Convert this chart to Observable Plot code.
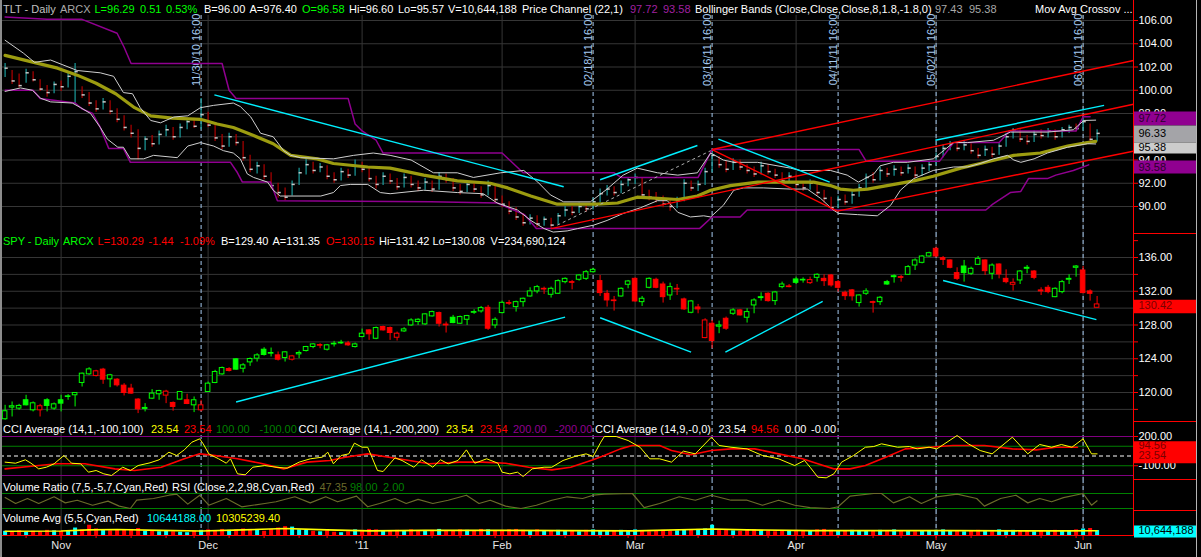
<!DOCTYPE html>
<html><head><meta charset="utf-8">
<script src="https://cdn.jsdelivr.net/npm/d3@7"></script>
<script src="https://cdn.jsdelivr.net/npm/@observablehq/plot@0.6"></script>
<style>
html,body{margin:0;padding:0;background:#000;}
#chart{position:relative;width:1201px;height:557px;background:#000;overflow:hidden;font-family:"Liberation Sans",Arial,Helvetica,sans-serif;font-size:11px;}
.hdr{position:absolute;white-space:nowrap;font-size:11px;line-height:13px;}
.ln{position:absolute;}
</style></head><body><div id="chart"></div>
<script>
// ---------------- DATA (bar index 0 = 2010-10-20 ... 156 = 2011-06-03) ----------------
const monthTicks = [8, 29, 51, 71, 90, 113, 133, 154];
const monthLabels = ["Nov", "Dec", "'11", "Feb", "Mar", "Apr", "May", "Jun"];
const weekTicks = [3,8,13,18,23,27,32,37,42,46,51,56,61,65,70,75,80,85,89,94,99,104,109,114,119,124,128,133,138,143,148,153];
const markerIdx = [28, 84, 101, 119, 133, 154];
const markerLabels = ["11/30/10 16:00","02/18/11 16:00","03/16/11 16:00","04/11/11 16:00","05/02/11 16:00","06/01/11 16:00"];

const tltTicks = [106,104,102,100,98,96,94,92,90];
const tltHiddenLabels = [96];
const spyTicks = [138,136,134,132,130,128,126,124,122,120,118];
const spyGrid = [136,134,132,130,128,126,124,122,120,118];
const cciTicks = [200,100,0,-100];
const cciHiddenLabels = [100, 0];

const tltClose = [101.9,100.8,100.4,101.5,100.9,100.1,99.8,100.5,100.3,101.2,
101.6,99.6,98.9,98.4,99.0,98.2,97.5,96.8,96.3,95.0,
95.8,95.4,96.2,96.6,96.0,96.8,97.3,96.9,97.9,97.0,
95.9,95.2,96.0,95.5,94.2,93.2,93.5,92.6,91.8,91.2,
90.8,91.9,92.9,93.6,93.1,93.4,92.6,92.3,93.0,92.7,
93.5,93.2,92.4,91.9,92.6,92.2,91.7,92.5,91.9,91.6,
92.1,91.5,92.6,92.3,91.6,91.3,91.9,91.5,91.0,91.8,
90.6,90.2,89.6,89.1,88.6,89.0,88.5,88.9,88.4,89.2,
89.7,89.5,90.0,89.8,90.4,91.1,91.5,91.2,91.9,92.3,
92.5,91.0,90.8,90.6,90.2,90.0,90.5,92.0,91.6,91.9,
93.0,94.4,93.6,93.2,93.8,93.4,93.1,92.8,93.5,93.0,
92.7,92.2,92.6,91.9,91.6,92.0,91.2,90.7,89.9,90.6,
90.4,91.0,91.6,92.5,92.3,93.1,92.8,93.2,92.9,93.3,
92.7,93.3,93.6,94.3,95.0,95.4,95.0,95.3,94.8,94.4,
94.9,94.5,95.2,96.0,96.6,95.8,95.6,96.2,96.1,96.5,
96.0,96.6,96.8,96.7,97.3,95.78,96.29];
const tltHigh = [102.3,101.7,101.4,101.8,101.6,100.9,100.4,100.7,100.8,101.5,
102.3,100.3,99.8,99.1,99.3,99.1,98.4,97.8,97.0,96.6,
96.0,96.1,96.5,97.0,96.8,97.1,97.5,97.6,99.3,98.1,
97.1,96.2,96.3,96.2,95.6,94.4,93.8,93.6,92.9,92.0,
91.6,92.2,93.3,94.1,93.8,93.7,93.5,92.9,93.3,93.2,
94.0,93.8,93.3,92.6,92.9,92.8,92.4,92.8,92.6,92.2,
92.4,92.2,92.9,92.8,92.4,91.9,92.2,92.1,91.7,92.2,
91.8,90.9,90.4,89.9,89.4,89.3,89.2,89.1,89.0,89.4,
90.0,90.0,90.3,90.2,90.7,91.5,91.8,91.7,92.2,92.5,
92.8,92.4,91.4,91.2,90.9,90.6,90.8,92.3,92.2,92.2,
93.3,94.8,94.3,93.9,94.1,94.0,93.6,93.4,93.8,93.6,
93.2,92.9,92.9,92.7,92.1,92.3,92.0,91.4,90.8,90.9,
91.0,91.3,91.9,92.8,92.9,93.4,93.3,93.5,93.4,93.6,
93.4,93.6,93.9,94.6,95.3,95.6,95.5,95.6,95.4,95.0,
95.2,95.1,95.4,96.3,96.7,96.6,96.1,96.5,96.6,96.7,
96.6,96.8,97.0,97.1,97.7,97.1,96.6];
const tltLow = [101.1,100.5,100.2,100.6,100.7,99.9,99.4,99.7,99.9,100.2,
98.8,99.3,98.6,98.1,98.3,97.9,97.2,96.5,95.9,94.0,
94.8,95.1,95.3,96.0,95.7,95.9,96.6,96.7,96.6,96.8,
95.6,94.9,95.1,95.2,93.9,92.9,92.8,92.3,91.5,90.7,
90.5,90.9,91.8,92.7,92.8,92.9,92.3,92.0,92.2,92.4,
92.6,92.9,92.1,91.5,91.8,91.9,91.4,91.6,91.6,91.3,
91.4,91.2,91.4,92.0,91.3,91.0,91.2,91.2,90.7,90.9,
90.3,89.9,89.3,88.8,88.3,88.4,88.2,88.3,88.1,88.4,
89.1,89.2,89.4,89.5,89.7,90.3,90.9,90.9,91.1,91.7,
91.9,90.7,90.5,90.3,89.9,89.6,89.8,90.4,91.3,91.3,
91.8,92.9,93.3,92.9,93.1,93.1,92.8,92.5,92.7,92.7,
92.4,91.9,92.0,91.6,91.3,91.4,90.9,90.3,89.7,89.8,
90.1,90.2,90.8,91.5,92.0,92.2,92.5,92.6,92.6,92.8,
92.4,92.6,93.0,93.5,94.2,94.8,94.7,94.8,94.5,94.1,
94.3,94.2,94.4,95.1,95.8,95.5,95.3,95.5,95.8,95.9,
95.7,95.9,96.3,96.4,96.5,95.6,95.57];

// TLT indicators, vertices [bar index, value]
const tltMA = [[0,103.0],[4.1,102.4],[7.5,101.9],[10.3,101.3],[13,100.6],[15.8,99.7],[18.5,98.5],[20.8,97.8],[23.9,97.6],[27.9,97.5],[30.3,97.1],[32.6,96.8],[35.5,96.1],[38.3,95.4],[40.8,94.4],[44.6,94.1],[46.9,93.7],[51.8,93.4],[55,93.3],[59.8,92.7],[64.6,92.2],[69.3,92.0],[71.8,91.6],[75.1,90.9],[78.9,90.2],[84.6,90.2],[87.5,90.3],[90.3,90.8],[96.1,90.6],[98.9,90.9],[100.8,91.4],[103.6,91.8],[107.5,92.1],[115.5,92.1],[117.9,91.8],[119.3,91.5],[121.2,91.4],[123.2,91.5],[126,91.8],[129.8,92.2],[132.6,92.6],[136.5,93.3],[139.3,93.7],[144.1,94.4],[147.9,94.6],[151.8,95.2],[154.6,95.5],[155.8,95.6]];
const bbUpper = [[0,104.3],[2.6,103.2],[4.2,102.4],[6.5,102.6],[10.3,101.7],[13.6,101.5],[15.5,101.2],[16.9,99.8],[18.2,99.7],[19.3,98.5],[20.8,97.4],[22.2,97.2],[24.1,97.7],[26.1,97.8],[27.9,98.5],[29.8,98.7],[32.6,98.9],[33.6,98.6],[35.1,97.7],[36.5,96.3],[38.3,96.0],[39.8,94.8],[40.8,94.4],[42.2,94.2],[46.9,94.1],[49.8,94.4],[52.6,94.6],[55,94.4],[58,94.0],[61.2,92.9],[64.6,92.9],[66.9,92.5],[70.8,92.9],[74.1,93.1],[76.1,92.1],[77.9,91.0],[79.8,90.4],[83.6,90.4],[86,91.5],[88.3,92.7],[90.3,93.3],[93.2,92.9],[96.1,92.7],[98.9,92.9],[100.8,94.6],[102.6,94.0],[104.1,93.8],[107.5,93.8],[112.2,93.3],[113.6,93.1],[117.9,93.1],[120.3,92.7],[121.9,92.1],[124.1,92.8],[125,93.5],[126.9,93.8],[128.9,93.8],[132.6,94.1],[135.5,95.5],[137.5,95.5],[141.2,95.7],[143.6,96.4],[148.9,96.4],[152.6,96.6],[154.1,97.4],[155.8,97.43]];
const bbLower = [[0,99.9],[2.2,100.2],[3.9,100.0],[5.1,99.3],[6.5,99.0],[9.6,98.9],[10.8,98.5],[12.2,98.0],[13.6,96.8],[14.6,95.8],[16.1,95.1],[16.9,95.1],[17.9,94.1],[19.8,94.1],[21.2,94.4],[24.6,94.2],[26.1,95.2],[27.9,95.5],[29.8,95.2],[31.2,94.8],[32.6,94.6],[33.6,94.1],[34.6,92.8],[35.5,92.5],[37.5,92.1],[38.3,91.4],[39.3,90.9],[45.1,90.9],[46.9,91.2],[47.9,91.8],[49.3,91.9],[51.8,91.9],[53.6,91.2],[55,91.1],[59.8,91.4],[64.6,91.2],[68.3,91.1],[70.3,90.3],[73.2,89.7],[75.1,88.8],[77,88.1],[78.3,87.8],[80.3,87.9],[81.8,88.1],[84.1,88.4],[86,88.8],[88.3,89.4],[90.8,89.9],[93.2,90.5],[94.6,90.5],[96.1,89.5],[97.9,89.1],[99.8,89.2],[100.8,89.1],[102.6,90.1],[104.1,91.4],[105.5,91.6],[108.3,91.6],[112.2,91.5],[114.6,91.5],[116.5,90.7],[118.3,89.7],[119.1,89.4],[121.8,89.3],[124.6,89.2],[126.5,90.1],[127.9,91.4],[129.8,92.4],[132.6,93.1],[135.5,93.4],[137.5,93.4],[139.3,93.7],[141.2,94.1],[143.2,94.4],[144.1,94.0],[145.1,93.8],[147,94.1],[148.9,94.6],[151.8,95.1],[154.6,95.4],[155.8,95.38]];
const pcUpper = [[0,106.3],[6,106.1],[11,106.1],[16,104.9],[17,103.7],[18,102.3],[31,102.3],[32,100.0],[33,99.3],[49,99.3],[50,97.1],[51,96.5],[52,96.1],[53,95.7],[54,94.6],[71,94.6],[74,92.9],[87,92.9],[88,92.5],[99,92.5],[101,94.9],[122,94.9],[123,93.9],[133.5,93.9],[135.5,95.5],[142,95.5],[143.5,96.5],[153,96.5],[154,97.72],[155,97.72]];
const pcLower = [[0,100.0],[4,100.0],[5,99.3],[10,98.9],[11,98.4],[12.5,98.0],[13.6,96.8],[14.8,95.0],[16.9,95.0],[17.9,93.8],[32.2,93.8],[33.2,92.9],[33.9,92.1],[37.9,92.1],[38.9,90.5],[60.8,90.4],[70.3,90.3],[74.2,89.3],[75.9,88.1],[99.2,88.1],[101,89.1],[105,89.1],[106,89.7],[140.1,89.7],[141.1,90.2],[143.6,91.2],[145.1,91.3],[146.2,92.4],[148.9,92.4],[150.1,92.7],[152.6,93.1],[154.8,93.58]];
// trend lines [i1, p1, i2, p2]
const tltCyanLines = [[29.9,99.6,79.8,91.7],[85,92.3,98.9,95.25],[101.9,95.8,117.8,92.1],[132.9,95.7,157,98.7]];
const tltRedLines = [[78,88.1,161.2,98.8],[101,94.9,161.2,102.56],[118.9,89.6,161.5,94.8],[101,94.9,118.9,89.6]];
const tltGreyLines = [[78.9,88.4,100.8,94.8]];
const tltLast = [97.72, 96.33, 95.38, 93.58];

const spyOpen = [116.83,118.21,118.09,119.08,117.89,117.89,119.08,118.09,119.08,119.47,
119.67,121.13,122.15,121.96,122.71,121.56,121.52,120.81,120.46,119.16,
118.05,119.27,119.79,119.63,118.76,119.16,119.08,118.48,117.89,120.06,
121.13,122.15,122.78,123.93,122.82,123.57,124.01,125.07,124.60,124.40,
124.09,123.89,124.52,124.92,125.39,125.62,125.07,125.70,125.82,125.82,
125.39,126.57,127.36,126.37,127.76,127.64,126.49,127.24,127.95,128.35,
128.07,129.02,129.41,128.05,128.86,128.15,128.62,129.45,129.61,130.04,
127.95,129.41,130.60,130.12,130.71,131.38,131.98,132.29,131.58,131.70,
133.08,133.08,133.36,133.47,134.26,133.20,131.70,130.91,131.38,132.77,
133.47,130.71,132.41,133.36,132.80,131.50,132.29,131.03,129.45,130.08,
126.45,128.15,127.80,128.74,129.33,129.73,128.86,130.32,131.19,131.70,
130.83,132.49,132.57,133.40,133.28,132.96,133.59,133.47,133.87,133.08,
131.82,132.10,130.60,131.70,130.71,130.71,133.08,133.67,133.67,133.95,
135.05,135.37,136.12,137.03,135.92,135.65,134.15,134.93,134.07,135.13,
135.65,134.07,135.17,133.47,132.77,133.28,134.66,134.34,132.10,132.41,
131.30,131.90,133.36,134.78,134.46,131.98,130.04];
const spyHigh = [118.48,118.88,118.60,119.67,118.88,118.60,119.27,118.76,119.67,119.75,
119.98,122.31,122.94,122.63,122.86,122.15,121.64,121.05,120.97,119.27,
118.68,120.34,120.26,120.26,118.88,120.10,119.79,119.47,119.08,121.25,
122.63,123.02,122.94,124.01,123.42,124.09,124.60,125.31,125.27,124.80,
124.84,124.40,124.92,125.47,125.78,125.78,125.70,126.06,126.18,126.06,
125.86,127.52,127.44,127.76,127.87,127.76,127.16,127.68,128.74,128.74,
129.33,129.65,129.53,128.35,129.14,129.06,129.14,129.81,130.20,130.32,
128.86,130.83,130.91,130.83,131.19,132.41,132.69,132.49,132.49,133.36,
133.59,133.28,133.95,134.46,134.74,133.87,132.10,131.38,132.41,133.28,
133.59,131.38,133.59,133.55,133.08,132.96,132.80,131.19,130.91,130.44,
128.74,128.54,128.46,128.94,129.93,129.85,129.93,131.11,131.82,131.82,
131.98,133.08,132.80,133.67,133.59,133.67,134.07,133.95,133.99,133.28,
132.02,132.21,131.58,132.29,130.83,131.38,133.28,133.95,133.87,135.05,
135.84,136.24,136.63,137.22,136.12,135.72,134.78,135.65,134.86,136.12,
135.72,135.25,135.25,134.54,133.47,134.46,135.05,134.46,132.41,132.69,
132.41,133.28,133.95,135.05,134.93,132.17,131.38];
const spyLow = [116.71,117.10,117.89,118.41,117.70,117.10,117.70,117.89,117.70,119.08,
118.29,120.65,122.04,121.84,120.97,120.57,120.65,119.59,119.79,117.50,
117.70,119.16,119.08,118.68,117.78,119.12,118.56,117.62,117.70,120.02,
121.05,122.04,122.43,122.63,122.31,123.10,123.61,124.32,124.21,123.73,
123.61,123.73,124.01,124.80,125.19,125.19,124.92,125.39,125.70,125.47,
125.27,126.49,126.18,126.26,127.28,126.18,126.10,127.12,127.83,127.95,
127.95,128.94,127.76,127.05,128.15,128.07,127.95,129.26,129.41,127.36,
127.56,129.33,130.32,129.53,130.12,131.30,131.70,131.62,131.19,131.62,
132.88,132.17,133.20,133.28,134.15,131.38,130.12,129.65,131.30,132.29,
130.71,130.20,132.29,132.29,130.60,130.91,131.50,129.73,129.33,129.33,
126.37,125.19,126.97,127.36,129.14,129.06,128.23,129.33,130.83,130.71,
130.32,132.29,132.41,132.80,132.96,132.80,133.08,132.57,132.49,131.90,
130.91,130.83,130.12,131.50,129.41,130.32,132.69,132.96,133.08,133.87,
134.46,135.25,136.04,135.96,135.05,134.66,133.28,133.08,133.87,135.05,
133.87,133.36,133.47,132.88,132.02,132.80,134.07,133.36,131.50,131.70,
131.23,131.70,132.80,133.67,131.70,130.83,130.04];
const spyClose = [117.78,118.37,118.41,118.48,118.72,118.37,118.41,118.60,118.68,119.55,
119.94,122.23,122.74,122.51,121.52,122.04,120.85,119.94,119.87,118.01,
118.17,119.87,120.18,120.10,118.29,120.06,118.64,119.08,118.48,121.05,
122.43,122.90,122.55,122.71,123.22,123.97,124.40,124.45,124.68,123.89,
124.76,124.28,124.68,125.39,125.70,125.55,125.59,125.78,125.90,125.59,
125.70,126.97,126.90,127.64,127.36,127.05,126.97,127.48,128.54,128.62,
129.26,129.53,128.15,127.95,128.23,128.94,129.06,129.53,130.00,127.56,
128.62,130.63,130.52,130.71,131.11,131.98,132.49,132.21,132.29,133.20,
133.47,133.00,133.87,134.26,134.54,131.78,130.91,130.83,132.29,133.16,
130.79,131.11,133.47,132.41,131.30,132.49,132.21,129.85,130.79,129.85,
128.54,126.10,127.95,127.56,129.73,129.14,129.53,130.91,131.30,130.83,
131.86,132.80,132.49,133.00,133.36,133.32,133.95,133.20,132.69,132.41,
131.42,131.40,131.50,131.98,130.63,131.23,132.80,133.79,133.59,134.86,
135.65,136.12,136.51,136.12,135.72,134.78,133.47,134.15,134.66,135.84,
134.38,135.05,133.99,133.08,133.00,134.34,134.78,133.59,131.98,131.90,
132.29,133.08,133.47,134.93,131.78,131.70,130.44];
const spyCyanLines = [[33,118.88,80,128.94],[85,128.86,98,124.79],[102.9,124.79,116.8,130.8],[134,133.28,155.9,128.63]];
const spyLast = [130.42];

const cciFast = [[0,-63],[1.5,-74],[2.9,-39],[3.7,-74],[4.8,-132],[5.9,-115],[7,-80],[8.4,5],[9.5,-74],[10.8,-80],[11.9,-166],[13,-149],[14.1,-183],[15.2,-200],[16.8,-115],[17.9,-149],[19,-98],[20.7,-70],[22,-39],[23.4,39],[24.5,5],[25.6,63],[26.7,142],[27.8,176],[28.3,125],[29.1,22],[30.5,-29],[31.6,-74],[32.2,-29],[33.2,-183],[34.3,-193],[35.4,-115],[37.1,-98],[38.7,-115],[40.3,-125],[42,-63],[43.6,-29],[45.3,-12],[46.1,39],[46.9,-80],[48,5],[49.1,22],[49.9,132],[51,90],[51.8,90],[53.2,-149],[54,-159],[55.7,-19],[56.7,-46],[58.4,-115],[59.5,-39],[61.1,-115],[62.2,-39],[63.3,-80],[64.7,-46],[65.9,63],[67.1,-74],[68.8,-29],[70.4,-74],[71,-166],[72.1,-183],[73.2,-166],[74,-210],[75.3,-132],[77,-115],[78.1,-115],[79.7,-46],[81.4,-5],[83,22],[84,-5],[85.1,142],[85.6,200],[87.3,200],[89,159],[90.7,90],[92.1,-29],[93.5,-29],[95.2,-63],[96.9,50],[98.6,22],[100.9,193],[102,108],[103.7,90],[106,73],[108.2,5],[110.5,-29],[112.8,-98],[114.2,-46],[115,-115],[116.1,-217],[117.3,-224],[118.4,-183],[119.5,-63],[121.2,5],[122.9,90],[124.1,97],[125.2,125],[127.5,90],[129.2,97],[130.3,73],[132,90],[133.1,73],[136,210],[137.6,125],[139.3,56],[141,22],[143.9,193],[146.1,22],[147.8,118],[149.5,90],[150.9,118],[152.4,90],[154,176],[155.2,22],[156,22]];
const cciAvg = [[0,-132],[4.8,-98],[7.5,-80],[11.4,-80],[15.7,-132],[18.5,-149],[22.3,-115],[25.6,-29],[27.8,22],[30,5],[33.2,-29],[36.5,-74],[39.8,-132],[43.1,-63],[46.4,-46],[48.6,-12],[51.8,22],[56.2,-29],[60.6,-80],[65,-63],[68.2,-63],[71.5,-74],[74.8,-115],[78.1,-142],[80.8,-115],[84,-39],[85.6,5],[87.9,73],[89.6,108],[93.5,108],[95.2,56],[98,12],[100.9,56],[103.7,73],[107.1,73],[110.5,22],[113.9,-29],[116.1,-80],[118.4,-132],[120.7,-132],[122.9,-98],[125.8,-12],[128.6,73],[132,90],[135.4,108],[139.9,108],[143.9,73],[147.3,63],[150.1,90],[153.2,90]];
const cciLast = [94.56, 23.54];

const rsi = [[0,72],[1.5,34],[3.2,66],[4.8,34],[7,77],[8.6,38],[10.3,55],[12.5,23],[14.7,49],[16.3,17],[17.9,2],[18.8,55],[21.2,66],[23.4,87],[24.5,94],[26.1,30],[27.8,87],[29.1,23],[31.6,66],[33.8,13],[37.1,34],[38.7,45],[41.4,77],[43.6,38],[45.8,77],[47.5,45],[50.2,81],[51.8,13],[53.5,34],[55.7,66],[57.3,34],[59,60],[61.1,34],[63.3,55],[65.9,87],[67.7,34],[69.3,55],[71.5,17],[73.7,2],[75.9,23],[78.1,55],[80.3,77],[82.5,66],[84,87],[85.6,94],[89.6,98],[91.3,8],[93.5,34],[96.3,77],[98.6,55],[100.9,87],[103.7,55],[106,55],[108.2,23],[110.5,55],[112.8,23],[115,8],[117.8,2],[119,13],[120.7,81],[124.1,98],[125.2,98],[126.9,38],[129.2,77],[130.9,34],[133.1,77],[136,94],[138.8,66],[139.9,17],[142.2,66],[144.4,87],[146.1,38],[147.8,66],[149.5,45],[151.2,72],[154,98],[155.2,23],[156,51]];
const rsiBands = [98, 2];

// TLT volume, millions
const volume = [9,8,10,7,9,8,11,10, 9,10,16,12,22,14,11,10, 12,11,13,15,9,10,8,9,
8,7,6,9,11,12,10,13, 11,12,14,13,12,9,13,16, 19,18,12,11,9,8,10,7,
6,8,12,11,13,12,10,9, 11,10,12,9,10,11,13,9, 10,12,11,9,13,12,10,11,
12,13,11,10,12,9,10,11, 9,10,8,11,12,10,9,10, 11,10,12,9,8,10,11,9,
10,12,11,13,14,22,12,11, 10,9,11,12,10,9,8,9, 10,11,9,10,12,13,11,9,
10,11,9,10,9,11,10,12, 9,10,8,9,10,11,12,10, 9,8,10,11,9,8,12,10,
11,9,10,8,9,10,11,9, 10,12,14,15,10.64];
const volAvg = [[0,9],[8,9.5],[12,12],[16,13],[22,11],[28,9.5],[34,12],[40,15],[46,12],[52,10],[60,11],[70,11],[80,10.5],[90,10],[101,14],[106,12],[115,10.5],[125,10.5],[135,10.5],[145,10],[152,10],[156,10.3]];
const volLast = [10644188];

// ---------------- RENDER ----------------
const FONT = '"Liberation Sans", Arial, Helvetica, sans-serif';
const root = document.getElementById("chart");
const C = {teal: "#1a9c9c", dred: "#b00000", grid: "#363636", dash: "#a6caf0", purple: "#900090",
  bb: "#cfcfcf", ma: "#9c9c10", cyan: "#00f0ff", red: "#ff0000", green: "#00ff00", dgreen: "#008000", olive: "#6b6b2a"};
const style = {background: "transparent", color: "white", fontFamily: FONT, fontSize: "11px", overflow: "visible"};

function mount(node, left, top, width, height) {
  const d = document.createElement("div");
  d.style.cssText = `position:absolute;left:${left}px;top:${top}px;width:${width}px;height:${height}px;`;
  d.appendChild(node); root.appendChild(d); return d;
}
function panel(top, height, opts, xAxis = null) {
  const svg = Plot.plot({
    width: 1201, height, marginLeft: 0, marginRight: 68, marginTop: opts.marginTop || 0, marginBottom: opts.marginBottom || 0,
    style, color: {type: "identity"},
    x: {type: "linear", domain: [0, 156], range: [4.6, 1096.6], axis: xAxis},
    y: opts.y, marks: opts.marks
  });
  mount(svg, 0, top, 1201, height);
}
function overlay(top, height, y, boxes) {
  const marks = [];
  for (const b of boxes) {
    marks.push(Plot.tickY([b.v], {y: d => d, stroke: b.bg, strokeWidth: b.h, dy: b.dy}));
    marks.push(Plot.text([b.v], {x: 0, y: d => d, text: b.fmt, dx: 4, dy: b.tdy || 0, textAnchor: "start", fill: b.fg, fontSize: 11}));
  }
  const svg = Plot.plot({width: 62, height, margin: 0, style,
    x: {domain: [0, 1], range: [0, 62], axis: null}, y: {...y, axis: null}, marks});
  mount(svg, 1134, top, 62, height);
}
const common = () => [
  Plot.ruleX(monthTicks, {stroke: C.grid}),
  Plot.ruleX(markerIdx, {stroke: C.dash, strokeDasharray: "4,3"})
];
const seg = (arr, stroke, w, dash) => Plot.link(arr, {x1: d => d[0], y1: d => d[1], x2: d => d[2], y2: d => d[3], stroke, strokeWidth: w, strokeDasharray: dash});
const pline = (arr, stroke, w) => Plot.line(arr, {x: d => d[0], y: d => d[1], stroke, strokeWidth: w});

// TLT
const tlt = tltClose.map((c, i) => ({i, c, h: tltHigh[i], l: tltLow[i], up: i === 0 || c >= tltClose[i - 1]}));
const tltY = {domain: [90, 106], range: [206, 20]};
panel(0, 233, {marginTop: 15, y: tltY, marks: [
  Plot.ruleY(tltTicks, {stroke: C.grid}),
  ...common(),
  Plot.text(markerIdx, {x: d => d, text: (d, i) => markerLabels[i], rotate: -90, frameAnchor: "top", dy: -2, dx: -1,
    textAnchor: "end", lineAnchor: "bottom", fill: C.dash, fontSize: 11}),
  Plot.ruleX(tlt, {x: "i", y1: "l", y2: "h", stroke: d => d.up ? C.teal : C.dred, strokeWidth: 1.2}),
  Plot.ruleY(tlt, {y: "c", x1: "i", x2: d => d.i + 0.45, stroke: "#c8c8c8", strokeWidth: 1.5}),
  pline(pcUpper, C.purple, 1.5),
  pline(pcLower, C.purple, 1.5),
  pline(tltMA, C.ma, 3.2),
  pline(bbUpper, C.bb, 1),
  pline(bbLower, C.bb, 1),
  seg(tltGreyLines, "#b0b0b0", 1, "3,3"),
  seg(tltRedLines, C.red, 1.4),
  seg(tltCyanLines, C.cyan, 1.4),
  Plot.axisY({ticks: tltTicks, anchor: "right", tickSize: 4, tickPadding: 1,
    tickFormat: d => tltHiddenLabels.includes(d) ? "" : d.toFixed(2), stroke: C.red, fill: "white", fontSize: 11, label: null})
]});
overlay(0, 233, tltY, [
  {v: tltLast[0], bg: C.purple, fg: "#2a002a", h: 14, dy: 1.7, tdy: 1.5, fmt: d => d.toFixed(2)},
  {v: tltLast[1], bg: "#a4a4a8", fg: "#000", h: 17, dy: 1, tdy: 1, fmt: d => d.toFixed(2)},
  {v: tltLast[2], bg: "#cccccc", fg: "#000", h: 11, dy: 4, tdy: 3.5, fmt: d => d.toFixed(2)},
  {v: tltLast[3], bg: C.purple, fg: "#2a002a", h: 13, dy: 2.1, tdy: 2.5, fmt: d => d.toFixed(2)}
]);

// SPY
const spy = spyOpen.map((o, i) => ({i, o, h: spyHigh[i], l: spyLow[i], c: spyClose[i],
  col: (i === 0 ? spyClose[i] >= o : spyClose[i] >= spyClose[i - 1]) ? C.green : C.red, hollow: spyClose[i] >= o}));
const spyY = {domain: [120, 136], range: [159, 24]};
panel(233, 188, {y: spyY, marks: [
  Plot.ruleY(spyGrid, {stroke: C.grid}),
  ...common(),
  Plot.ruleX(spy, {x: "i", y1: "l", y2: "h", stroke: "col"}),
  Plot.rect(spy, {x1: d => d.i - 0.33, x2: d => d.i + 0.33, y1: d => Math.min(d.o, d.c), y2: d => Math.max(d.o, d.c),
    fill: d => d.hollow ? "#000" : d.col, stroke: "col", strokeWidth: 1}),
  seg(spyCyanLines, C.cyan, 1.4),
  Plot.axisY({ticks: spyTicks, anchor: "right", tickSize: 4, tickPadding: 1, tickFormat: d => d % 4 === 0 ? d.toFixed(2) : "", stroke: C.red, fill: "white", fontSize: 11, label: null})
]});
overlay(233, 188, spyY, [{v: spyLast[0], bg: C.red, fg: "#7a0000", h: 13.5, dy: 1.8, tdy: 1, fmt: d => d.toFixed(2)}]);

// CCI
const cciY = {domain: [-200, 200], range: [54, 15]};
panel(421, 58, {y: cciY, marks: [
  ...common(),
  Plot.ruleY([200, -200], {stroke: "#800080"}),
  Plot.ruleY([100, -100], {stroke: C.dgreen}),
  Plot.ruleY([0], {stroke: "white", strokeDasharray: "4,3"}),
  pline(cciAvg, C.red, 1.6),
  pline(cciFast, "#ffff00", 1),
  Plot.axisY({ticks: cciTicks, anchor: "right", tickSize: 4, tickPadding: 1,
    tickFormat: d => cciHiddenLabels.includes(d) ? "" : d.toFixed(2), stroke: C.red, fill: "white", fontSize: 11, label: null})
]});
overlay(421, 58, cciY, [
  {v: cciLast[0], bg: C.red, fg: "#7a0000", h: 11, dy: 0, tdy: -1, fmt: d => d.toFixed(2)},
  {v: cciLast[1], bg: C.red, fg: "#7a0000", h: 14, dy: 2.5, tdy: 2, fmt: d => d.toFixed(2)}
]);

// RSI / Volume ratio
panel(479, 31, {y: {domain: [2, 98], range: [29, 14], axis: null}, marks: [
  ...common(),
  Plot.ruleY(rsiBands, {stroke: C.dgreen}),
  pline(rsi, C.olive, 1.2)
]});

// Volume
const vol = volume.map((v, i) => ({i, v, up: tlt[i].up}));
panel(510, 47, {marginBottom: 22, y: {domain: [0, 30], range: [25, 11], axis: null}, marks: [
  ...common(),
  Plot.ruleX(vol, {x: "i", y1: 0, y2: "v", stroke: d => d.up ? "#00ffff" : C.red, strokeWidth: 4}),
  pline(volAvg, "#ffff00", 1.6),
  Plot.ruleY([0], {stroke: C.red}),
  Plot.axisX({ticks: weekTicks, anchor: "bottom", tickSize: 3, tickFormat: () => "", stroke: C.red, label: null}),
  Plot.axisX({ticks: monthTicks, anchor: "bottom", tickSize: 5, tickPadding: 1, tickFormat: d => monthLabels[monthTicks.indexOf(d)],
    stroke: C.red, fill: "#e6e6e6", fontSize: 11, label: null})
]}, undefined);
overlay(510, 25, {domain: [0, 30], range: [25, 11]}, [{v: volLast[0] / 1e6, bg: "#00ffff", fg: "#000", h: 12, dy: 1, fmt: () => "10,644,188"}]);

// frame lines of the right axis strip
function line(l, t, w, h, c) { const d = document.createElement("div"); d.className = "ln";
  d.style.cssText += `left:${l}px;top:${t}px;width:${w}px;height:${h}px;background:${c};`; root.appendChild(d); }
line(1133, 0, 1, 536, C.red);
for (const t of [233, 421, 479, 510]) line(1133, t, 63, 1, C.red);
line(0, 0, 2, 557, "#8c8c8c");
line(1196, 0, 1, 557, "#b4b4b4");

// headers
function hdr(top, items) {
  for (const [x, t, c] of items) { const s = document.createElement("span"); s.className = "hdr";
    s.style.left = x + "px"; s.style.top = top + "px"; s.style.color = c; s.textContent = t; root.appendChild(s); }
}
hdr(3, [[3,"TLT - Daily","#c0c0c0"],[60,"ARCX","#a8a8a8"],[94.5,"L=96.29",C.green],[140,"0.51",C.green],[166,"0.53%",C.green],
  [204,"B=96.00","#fff"],[249.5,"A=976.40","#fff"],[302,"O=96.58",C.green],[349,"Hi=96.60","#fff"],[398,"Lo=95.57","#fff"],
  [448,"V=10,644,188","#fff"],[522,"Price Channel (22,1)","#fff"],[630,"97.72","#a020a0"],[663,"93.58","#a020a0"],
  [695,"Bollinger Bands (Close,Close,Close,8,1.8,-1.8,0)","#fff"],[935,"97.43","#a8a8a8"],[969,"95.38","#a8a8a8"],[1035,"Mov Avg Crossov ...","#fff"]]);
hdr(235, [[3,"SPY - Daily",C.green],[63,"ARCX",C.green],[97.6,"L=130.29",C.red],[148.5,"-1.44",C.red],[180,"-1.09%",C.red],
  [221,"B=129.40","#fff"],[272.5,"A=131.35","#fff"],[326,"O=130.15",C.red],[379,"Hi=131.42","#fff"],[432.5,"Lo=130.08","#fff"],[490.6,"V=234,690,124","#fff"]]);
hdr(423, [[3,"CCI Average (14,1,-100,100)","#fff"],[151,"23.54","#ffff00"],[184,"23.54",C.red],[216,"100.00",C.dgreen],[259.5,"-100.00",C.dgreen],
  [298.5,"CCI Average (14,1,-200,200)","#fff"],[446,"23.54","#ffff00"],[480,"23.54",C.red],[513,"200.00","#900090"],[555,"-200.00","#900090"],
  [595,"CCI Average (14,9,-0,0)","#fff"],[718.6,"23.54","#fff"],[751,"94.56",C.red],[785,"0.00","#fff"],[811,"-0.00","#fff"]]);
hdr(481, [[3,"Volume Ratio (7,5,-5,7,Cyan,Red)","#fff"],[172,"RSI (Close,2,2,98,Cyan,Red)","#fff"],[319.5,"47.35",C.olive],[350,"98.00",C.dgreen],[383,"2.00",C.dgreen]]);
hdr(512, [[3,"Volume Avg (5,5,Cyan,Red)","#fff"],[147,"10644188.00","#00ffff"],[216,"10305239.40","#ffff00"]]);
</script></body></html>
